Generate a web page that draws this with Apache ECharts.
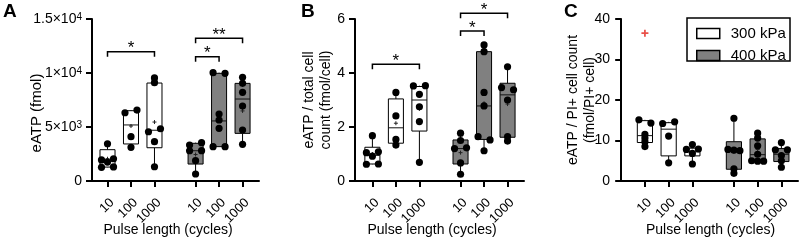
<!DOCTYPE html>
<html><head><meta charset="utf-8">
<script src="https://cdn.jsdelivr.net/npm/echarts@6/dist/echarts.min.js"></script>
<style>html,body{margin:0;padding:0;background:#fff}#c{width:800px;height:242px}</style>
</head><body><div id="c"></div>
<script>
// ---------- data ----------
const categories = ['10', '100', '1000', '10', '100', '1000'];
const seriesNames = ['300 kPa', '400 kPa'];

// Panel A: eATP (fmol)  stats = [min, q1, median, q3, max]
const aStats = [[1270,1290,1850,2900,3450],[3120,3430,5190,6510,6570],[1320,3080,4700,9070,9540],
                [650,1570,2800,3490,3550],[3180,3180,5560,9970,10030],[3400,4410,7590,9040,9600]];
const aMeans = [2060, 5090, 5460, 2450, 6100, 6490];
const aPoints = [[3450,1950,1750,2060,1270,1300],[6320,6570,4100,3120],[9540,9100,4560,4840,3640,1320],
                 [3330,3550,2800,2810,1880,650],[10030,9970,6200,5650,4880,3180,3180],[9600,9040,8210,6940,4720,3400]];
const aBrackets = [[0,2,11970,'*'],[3,4,11510,'*'],[3,5,13210,'**']];
const aYTicks = ['0','5×10{s|3}','1×10{s|4}','1.5×10{s|4}'];

// Panel B: eATP / total cell count (fmol/cell)
const bStats = [[0.62,0.63,0.95,1.25,1.68],[1.33,1.40,1.97,3.04,3.28],[0.69,1.85,3.0,3.5,3.53],
                [0.25,0.63,1.2,1.52,1.77],[1.12,1.54,2.78,4.79,5.04],[1.48,1.62,3.19,3.62,4.23]];
const bMeans = [1.0, 2.14, 2.67, 1.05, 2.88, 2.85];
const bPoints = [[1.68,1.05,1.08,0.92,0.62,0.63],[3.28,2.41,1.54,1.33],[3.52,3.53,3.21,2.75,2.2,0.69],
                 [1.77,1.5,1.2,1.23,0.67,0.25],[5.04,4.79,3.28,2.78,1.64,1.52,1.12],[4.23,3.46,3.38,3.0,1.64,1.48]];
const bBrackets = [[0,2,4.32,'*'],[3,4,5.56,'*'],[3,5,6.21,'*']];
const bYTicks = ['0','2','4','6'];

// Panel C: eATP / PI+ cell count (fmol/PI+ cell)
const cStats = [[8.5,9.5,11.2,14.9,15.1],[4.5,6.2,12.8,14.4,14.6],[4.2,6.2,7.2,8.1,9.0],
                [1.9,2.9,7.6,9.7,15.5],[4.9,4.9,6.5,10.4,11.8],[3.4,4.8,6.6,8.0,9.5]];
const cMeans = [11.4, 11.1, 7.2, 7.2, 7.8, 6.6];
const cPoints = [[15.1,14.3,11.5,10.6,9.7,8.5],[14.2,14.6,11.1,4.5],[9.0,7.8,7.9,6.8,4.2],
                 [15.5,7.8,7.6,7.5,3.0,1.9],[11.8,10.6,8.7,6.6,5.0,4.9,4.9],[9.5,7.7,7.7,6.3,5.0,3.4]];
const cOutliers = [[0, 36.5]];   // [group index, value]
const cYTicks = ['0','10','20','30','40'];

// ---------- layout / style ----------
const FONT = '"Liberation Sans", Arial, sans-serif';
const groupPos = [1, 2, 3, 4.75, 5.75, 6.75];
const fills = ['#ffffff', '#808080'];

const panels = [
  {stats:aStats, means:aMeans, points:aPoints, brackets:aBrackets, yTicks:aYTicks, yMax:15000, yInt:5000,
   grid:{left:92, top:19, width:167, height:162}, xMin:0.34, xMax:7.45,
   yName:'eATP (fmol){g|}', yGap:47, yFont:15, gW:26, xPad:[0,15,0,0]},
  {stats:bStats, means:bMeans, points:bPoints, brackets:bBrackets, yTicks:bYTicks, yMax:6, yInt:2,
   grid:{left:355, top:19, width:169, height:162}, xMin:0.26, xMax:7.45,
   yName:'eATP / total cell\ncount (fmol/cell)', yGap:20, yFont:14, gW:0, xPad:[0,15,0,0]},
  {stats:cStats, means:cMeans, points:cPoints, brackets:[], yTicks:cYTicks, yMax:40, yInt:10,
   grid:{left:620, top:19, width:178, height:162}, xMin:-0.05, xMax:7.45,
   yName:'eATP / PI+ cell count\n(fmol/PI+ cell)', yGap:21, yFont:14, gW:0, xPad:[0,0,0,3]}
];

function boxRenderer(panel, fill) {
  return function (params, api) {
    const gi = api.value(0);
    const x = groupPos[gi];
    const st = panel.stats[gi];
    const cx = api.coord([x, 0])[0];
    const half = api.size([0.64, 0])[0] / 2;
    const py = v => api.coord([x, v])[1];
    const ch = [];
    const ln = (x1, y1, x2, y2, w, c) => ({type:'line', shape:{x1, y1, x2, y2}, style:{stroke:c || '#000', lineWidth:w || 1}});
    ch.push(ln(cx, py(st[4]), cx, py(st[3])));
    ch.push(ln(cx, py(st[1]), cx, py(st[0])));
    ch.push({type:'rect', shape:{x:cx - half, y:py(st[3]), width:2 * half, height:py(st[1]) - py(st[3])},
             style:{fill:fill, stroke:'#000', lineWidth:1}});
    ch.push(ln(cx - half, py(st[2]), cx + half, py(st[2]), 1, '#111'));
    const my = py(panel.means[gi]);
    ch.push(ln(cx - 2, my, cx + 2, my, 1, '#222'));
    ch.push(ln(cx, my - 2, cx, my + 2, 1, '#222'));
    // row arrangement of the individual points (points closer than 3.5 px share a row)
    const pts = panel.points[gi].map((v, i) => ({i, y: py(v)})).sort((a, b) => a.y - b.y);
    const rows = [];
    pts.forEach(p => {
      const r = rows[rows.length - 1];
      if (r && p.y - r[0].y < 3.5) r.push(p); else rows.push([p]);
    });
    rows.forEach(r => {
      r.sort((a, b) => a.i - b.i);
      const n = r.length;
      r.forEach((p, k) => {
        const off = n === 1 ? 0 : -6 + 12 * k / (n - 1);
        ch.push({type:'circle', shape:{cx:cx + off, cy:p.y, r:3.6}, style:{fill:'#000'}});
      });
    });
    return {type:'group', children:ch};
  };
}

function bracketRenderer(panel) {
  return function (params, api) {
    const b = panel.brackets[params.dataIndex];
    const x1 = api.coord([groupPos[b[0]], b[2]]);
    const x2 = api.coord([groupPos[b[1]], b[2]]);
    const y = x1[1];
    return {type:'group', children:[
      {type:'polyline', shape:{points:[[x1[0], y + 5], [x1[0], y], [x2[0], y], [x2[0], y + 5]]},
       style:{stroke:'#000', lineWidth:1.5, fill:null}},
      {type:'text', x:(x1[0] + x2[0]) / 2, y:y - 3,
       style:{text:b[3], fill:'#000', font:'17px ' + FONT, align:'center', verticalAlign:'middle'}}
    ]};
  };
}

const grids = [], xAxes = [], yAxes = [], series = [];
panels.forEach((p, k) => {
  grids.push(Object.assign({containLabel:false, outerBoundsMode:'none'}, p.grid));
  xAxes.push({
    type:'value', gridIndex:k, min:p.xMin, max:p.xMax,
    axisLine:{show:true, onZero:false, lineStyle:{color:'#000', width:2}},
    axisTick:{show:true, customValues:groupPos, length:6, lineStyle:{color:'#000', width:2}},
    axisLabel:{show:true, customValues:groupPos, rotate:45, margin:15, fontSize:13, color:'#000', fontFamily:FONT,
               verticalAlign:'top',
               formatter:v => categories[groupPos.indexOf(v)] || ''},
    splitLine:{show:false},
    name:'Pulse length (cycles)', nameLocation:'middle', nameGap:42, nameMoveOverlap:false,
    nameTextStyle:{fontSize:14, color:'#000', fontFamily:FONT, padding:p.xPad}
  });
  yAxes.push({
    type:'value', gridIndex:k, min:0, max:p.yMax, interval:p.yInt,
    axisLine:{show:true, lineStyle:{color:'#000', width:2}},
    axisTick:{show:true, length:6, lineStyle:{color:'#000', width:2}},
    axisLabel:{margin:10, fontSize:14, color:'#000', fontFamily:FONT,
               formatter:(v) => p.yTicks[Math.round(v / p.yInt)],
               rich:{s:{fontSize:10, verticalAlign:'top', lineHeight:9, fontFamily:FONT, color:'#000'}}},
    splitLine:{show:false},
    name:p.yName, nameLocation:'middle', nameGap:p.yGap, nameRotate:90, nameMoveOverlap:false,
    nameTextStyle:{fontSize:p.yFont, color:'#000', fontFamily:FONT, lineHeight:17,
                   rich:{g:{width:p.gW, fontSize:p.yFont}}}
  });
  [0, 1].forEach(s => {
    const idx = s === 0 ? [0, 1, 2] : [3, 4, 5];
    series.push({
      type:'custom', name:seriesNames[s], xAxisIndex:k, yAxisIndex:k,
      itemStyle:{color:fills[s], borderColor:'#000'},
      renderItem:boxRenderer(p, fills[s]),
      encode:{x:1, y:2},
      data:idx.map(g => [g, groupPos[g], p.stats[g][2]]),
      silent:true, z:2
    });
  });
  if (p.brackets.length) {
    series.push({
      type:'custom', xAxisIndex:k, yAxisIndex:k, clip:false,
      renderItem:bracketRenderer(p),
      encode:{x:0, y:1},
      data:p.brackets.map(b => [groupPos[b[0]], b[2]]),
      silent:true, z:3
    });
  }
});
series.push({
  type:'scatter', xAxisIndex:2, yAxisIndex:2,
  symbol:'path://M-1,-4H1V-1H4V1H1V4H-1V1H-4V-1H-1Z', symbolSize:7,
  itemStyle:{color:'#e3241b'},
  data:cOutliers.map(o => [groupPos[o[0]], o[1]]), silent:true, z:4
});

const chart = echarts.init(document.getElementById('c'), null, {renderer:'canvas'});
chart.setOption({
  animation:false,
  backgroundColor:'#fff',
  textStyle:{fontFamily:FONT},
  grid:grids, xAxis:xAxes, yAxis:yAxes, series:series,
  legend:{
    show:true, orient:'vertical', left:696, top:26, selectedMode:false,
    data:[{name:seriesNames[0], icon:'rect', itemStyle:{color:fills[0], borderColor:'#000', borderWidth:1.5}},
          {name:seriesNames[1], icon:'rect', itemStyle:{color:fills[1], borderColor:'#000', borderWidth:1.5}}],
    itemWidth:23, itemHeight:10, itemGap:7, padding:0,
    textStyle:{fontSize:15, color:'#000', fontFamily:FONT, padding:[0,0,0,6]}
  },
  graphic:[
    {type:'rect', shape:{x:687, y:18, width:103, height:43}, style:{fill:null, stroke:'#000', lineWidth:1.5}},
    {type:'text', left:3, top:2, style:{text:'A', font:'bold 19px ' + FONT, fill:'#000'}},
    {type:'text', left:301, top:2, style:{text:'B', font:'bold 19px ' + FONT, fill:'#000'}},
    {type:'text', left:564, top:2, style:{text:'C', font:'bold 19px ' + FONT, fill:'#000'}}
  ]
});
</script></body></html>
